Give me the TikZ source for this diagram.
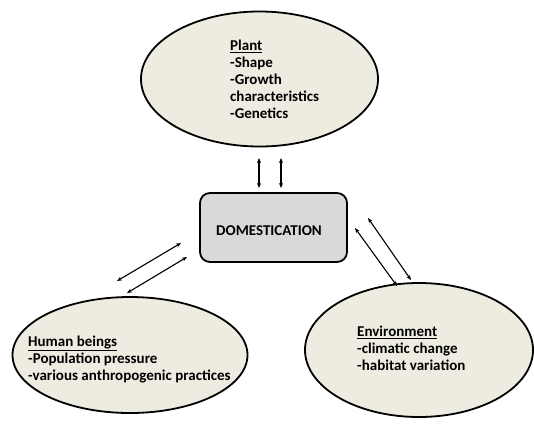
\documentclass[tikz,border=0pt]{standalone}
\usepackage{fontspec}
\setmainfont{Carlito}
\usetikzlibrary{shapes.geometric,arrows.meta}
\definecolor{beige}{HTML}{EEECE1}
\definecolor{boxgray}{HTML}{D9D9D9}
\tikzset{
  bubble/.style={ellipse, draw=black, line width=1.8pt, fill=beige, inner sep=0pt},
  dombox/.style={rectangle, rounded corners=10pt, draw=black, line width=1.8pt, fill=boxgray, inner sep=0pt},
  txtblock/.style={align=left, anchor=north west, inner sep=0pt, font=\bfseries\fontsize{15}{17}\selectfont},
  link/.style={{Stealth[length=5pt,width=4pt]}-{Stealth[length=5pt,width=4pt]}, line width=1.1pt}
}
\begin{document}
\begin{tikzpicture}[x=1pt,y=-1pt]
\useasboundingbox (0,0) rectangle (534,429);
\node[bubble, minimum width=237pt, minimum height=135pt] (plant) at (259.5,79) {};
\node[bubble, minimum width=235pt, minimum height=116pt] (human) at (130,355) {};
\node[bubble, minimum width=228pt, minimum height=134pt] (env) at (419,350) {};
\node[dombox, minimum width=147pt, minimum height=69pt] (dom) at (273.5,227.5) {};
\node[font=\bfseries\fontsize{15}{16}\selectfont, inner sep=0pt] (domt) at (269,231) {DOMESTICATION};
\node[txtblock] (plantt) at (230,40) {\underline{Plant}\\-Shape\\-Growth\\characteristics\\-Genetics};
\node[txtblock] (humant) at (28,336) {\underline{Human beings}\\-Population pressure\\-various anthropogenic practices};
\node[txtblock] (envt) at (357,326) {\underline{Environment}\\-climatic change\\-habitat variation};
\coordinate (p1a) at (259,158); \coordinate (p1b) at (259,188);
\coordinate (p2a) at (281,158); \coordinate (p2b) at (281,188);
\coordinate (h1a) at (117,281); \coordinate (h1b) at (181,243);
\coordinate (h2a) at (127,293); \coordinate (h2b) at (187,257);
\coordinate (e1a) at (355,228); \coordinate (e1b) at (397,286);
\coordinate (e2a) at (368,218); \coordinate (e2b) at (411,280);
\draw[link] (p1a) -- (p1b);
\draw[link] (p2a) -- (p2b);
\draw[link] (h1a) -- (h1b);
\draw[link] (h2a) -- (h2b);
\draw[link] (e1a) -- (e1b);
\draw[link] (e2a) -- (e2b);
\end{tikzpicture}
\end{document}
